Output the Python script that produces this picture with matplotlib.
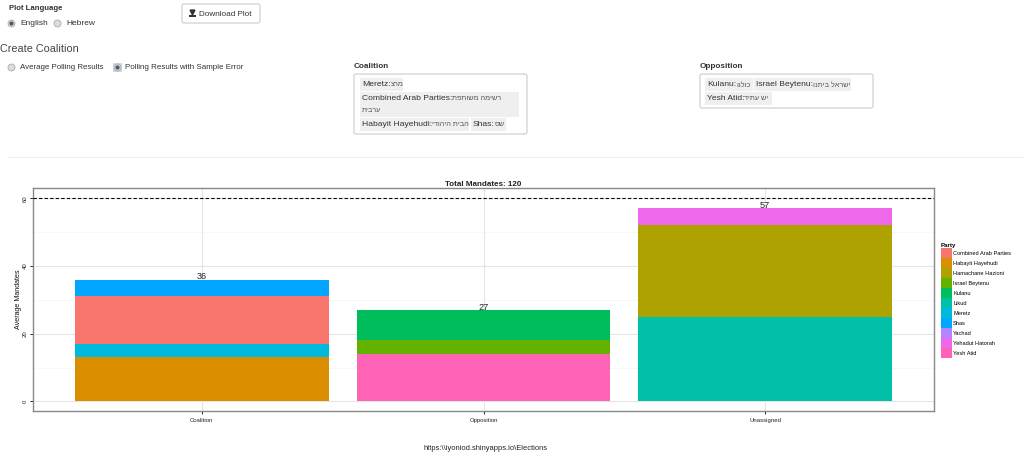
import matplotlib
matplotlib.use("Agg")
import matplotlib.pyplot as plt
from matplotlib.patches import Patch, Rectangle, FancyBboxPatch

plt.rcParams["font.family"] = ["Liberation Sans", "DejaVu Sans"]

groups = ["Coalition", "Opposition", "Unassigned"]
parties = ["Combined Arab Parties", "Habayit Hayehudi", "Hamachane Hazioni", "Israel Beytenu",
           "Kulanu", "Likud", "Meretz", "Shas", "Yachad", "Yehadut Hatorah", "Yesh Atid"]
party_colors = ["#F8766D", "#DB8E00", "#AEA200", "#64B200", "#00BD5C", "#00C1A7",
                "#00BADE", "#00A6FF", "#B385FF", "#EF67EB", "#FF63B6"]

# stacked bottom to top
coalition_parties = ["Habayit Hayehudi", "Meretz", "Combined Arab Parties", "Shas"]
coalition_values = [13, 4, 14, 5]
opposition_parties = ["Yesh Atid", "Israel Beytenu", "Kulanu"]
opposition_values = [14, 4, 9]
unassigned_parties = ["Likud", "Hamachane Hazioni", "Yehadut Hatorah"]
unassigned_values = [25, 27, 5]

majority = 60
y_ticks = [0, 20, 40, 60]
y_minor = [10, 30, 50]

coalition_chips = [("Meretz:", "מרצ"), ("Combined Arab Parties:", "רשימה משותפת"),
                   ("Habayit Hayehudi:", "הבית היהודי"), ("Shas:", "שס")]
opposition_chips = [("Kulanu:", "כולנו"), ("Israel Beytenu:", "ישראל ביתנו"), ("Yesh Atid:", "יש עתיד")]

fig = plt.figure(figsize=(10.24, 4.58), dpi=100)

# page widgets, in pixel coordinates
page = fig.add_axes([0, 0, 1, 1])
page.set_xlim(0, 1024)
page.set_ylim(458, 0)
page.axis("off")

def label(x, y, s, size=5.8, color="#333333", weight="normal", ha="left"):
    return page.text(x, y + 1, s, fontsize=size, color=color, fontweight=weight, ha=ha, va="center")

def radio(x, y, selected=False, focus=False):
    if focus:
        page.add_patch(Rectangle((x - 4.5, y - 4.5), 9, 9, fc="#c5d9f0", ec="none"))
    page.plot([x], [y], "o", ms=5, mfc="#dddddd", mec="#aaaaaa", mew=0.6)
    if selected:
        page.plot([x], [y], "o", ms=2, color="#555555")

def box(x0, y0, x1, y1):
    page.add_patch(FancyBboxPatch((x0 + 2, y0 + 2), x1 - x0 - 4, y1 - y0 - 4,
                                  boxstyle="round,pad=2", fc="white", ec="#cccccc", lw=0.8))

def chip(x0, y0, x1, y1, en, he, he2=None):
    page.add_patch(Rectangle((x0, y0), x1 - x0, y1 - y0, fc="#efefef", ec="none"))
    t = label(x0 + 2, y0 + 6, en, size=6.1)
    # hebrew drawn reversed, matplotlib does no bidi
    page.annotate(he[::-1], xy=(1, 0.5), xycoords=t, xytext=(0, 0), textcoords="offset points",
                  fontsize=5.2, color="#555555", ha="left", va="center")
    if he2:
        label(x0 + 2, y0 + 18, he2[::-1], size=5.2, color="#555555")

label(9, 8, "Plot Language", size=5.6, weight="bold")
radio(11, 23, selected=True)
label(20, 22.5, "English", size=6)
radio(57, 23)
label(66, 22.5, "Hebrew", size=6)

box(182, 4, 260, 23)
page.plot([192], [12], "v", ms=3.5, color="#333333")
page.add_patch(Rectangle((189, 14.5), 7, 2.5, fc="#333333", ec="none"))
label(199, 13.5, "Download Plot", size=5.9)

label(0, 48, "Create Coalition", size=7.8, color="#444444")
radio(11, 67)
label(20, 66.5, "Average Polling Results", size=5.7)
radio(117, 67, selected=True, focus=True)
label(125, 66.5, "Polling Results with Sample Error", size=5.8)

label(354, 65, "Coalition", size=5.9, weight="bold")
box(354, 74, 527, 134)
chip(360, 78, 403, 91, *coalition_chips[0])
chip(360, 92, 519, 117, *coalition_chips[1], he2="ערבית")
chip(360, 118, 469, 131, *coalition_chips[2])
chip(471, 118, 506, 131, *coalition_chips[3])

label(700, 65, "Opposition", size=5.9, weight="bold")
box(700, 74, 873, 108)
chip(705, 78, 753, 91, *opposition_chips[0])
chip(754, 78, 851, 91, *opposition_chips[1])
chip(705, 92, 772, 105, *opposition_chips[2])

page.plot([8, 1024], [157, 157], color="#eeeeee", lw=0.8)
label(485, 448, "https:\\\\iyoniod.shinyapps.io\\Elections", size=5.4, color="#222222", ha="center")

# the bar chart
ax = fig.add_axes([33 / 1024, 1 - 411 / 458, 901 / 1024, 223 / 458])
stacks = [(coalition_parties, coalition_values), (opposition_parties, opposition_values),
          (unassigned_parties, unassigned_values)]
for i, (names, values) in enumerate(stacks):
    bottom = 0
    for name, value in zip(names, values):
        ax.bar(i, value, 0.9, bottom=bottom, color=party_colors[parties.index(name)], zorder=2)
        bottom += value
    ax.annotate(str(bottom), (i, bottom), xytext=(0, 2), textcoords="offset points",
                ha="center", va="center", fontsize=6.6, color="#222222", zorder=4)

ax.axhline(majority, color="black", ls=(0, (3, 2)), lw=0.8, zorder=3)
ax.set_xlim(-0.6, 2.6)
ax.set_ylim(-2.85, 63.05)
ax.set_xticks(range(len(groups)), groups)
ax.set_yticks(y_ticks)
ax.set_yticks(y_minor, minor=True)
ax.grid(True, which="major", color="#e5e5e5", lw=0.8, zorder=0)
ax.grid(True, which="minor", axis="y", color="#f4f4f4", lw=0.5, zorder=0)
ax.tick_params(which="major", labelsize=4.3, length=2, width=0.6, pad=3, labelcolor="#222222")
ax.tick_params(which="minor", length=0)
ax.tick_params(axis="y", which="major", labelrotation=90, pad=1.5)
for t in ax.get_yticklabels():
    t.set_va("center")
ax.set_ylabel("Average Mandates", fontsize=5.1, color="#111111")
ax.yaxis.set_label_coords(-0.0122, 0.5)
ax.set_title("Total Mandates: 120", fontsize=5.8, fontweight="bold", pad=1.5, color="#222222")
for s in ax.spines.values():
    s.set_color("#888888")
    s.set_linewidth(1)

handles = [Patch(fc=c, ec="none", label=p) for p, c in zip(parties, party_colors)]
leg = fig.legend(handles=handles, title="Party", loc="upper left", bbox_to_anchor=(941 / 1024, 1 - 243 / 458),
                 frameon=False, fontsize=4.1, title_fontsize=4.4, labelspacing=0, handlelength=1.93,
                 handleheight=2.32, handletextpad=0.2, borderpad=0, borderaxespad=0)
leg._legend_box.align = "left"
leg.get_title().set_fontweight("bold")

fig.savefig("out.png", dpi=100)
